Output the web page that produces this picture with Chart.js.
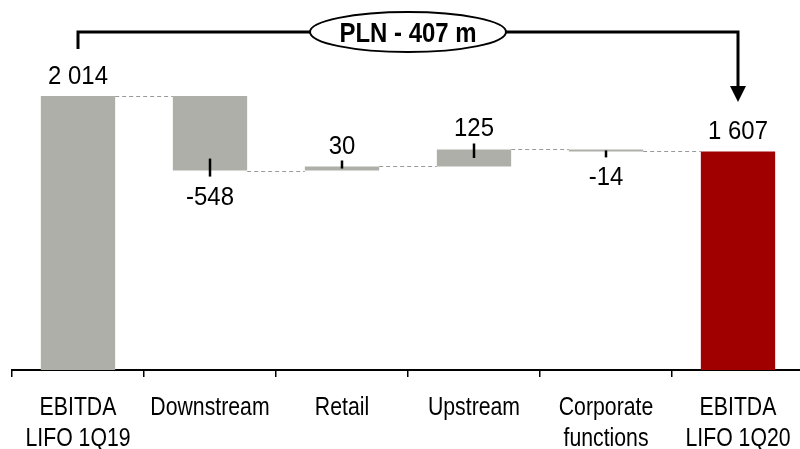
<!DOCTYPE html>
<html>
<head>
<meta charset="utf-8">
<script src="https://cdn.jsdelivr.net/npm/chart.js@4"></script>
<style>
  body { margin: 0; background: #fff; overflow: hidden; }
  #contenedor { width: 804px; height: 449px; }
</style>
</head>
<body>
<div id="contenedor"><canvas id="grafico"></canvas></div>
<script>
// DATOS:
const categorias = [['EBITDA', 'LIFO 1Q19'], 'Downstream', 'Retail', 'Upstream', ['Corporate', 'functions'], ['EBITDA', 'LIFO 1Q20']];
const valores = [2014, -548, 30, 125, -14, 1607];
const esTotal = [true, false, false, false, false, true];
const unidad = 'PLN';

const FUENTE = "'Liberation Sans', Arial, sans-serif";

// rangos flotantes de la cascada
const rangos = [];
let acumulado = 0;
valores.forEach(function(v, i) {
    if (esTotal[i]) {
        rangos.push([0, v]);
        acumulado = v;
    } else {
        rangos.push([acumulado, acumulado + v]);
        acumulado += v;
    }
});

const colores = valores.map(function(v, i) {
    return i === valores.length - 1 ? '#A00000' : '#AFAFAA';
});

function formato(n) {
    return String(n).replace(/\B(?=(\d{3})+(?!\d))/g, ' ');
}

// texto estrecho (imita una fuente narrow)
function textoAngosto(ctx, texto, x, y, escala) {
    ctx.save();
    ctx.translate(x, y);
    ctx.scale(escala, 1);
    ctx.fillText(texto, 0, 0);
    ctx.restore();
}

// dibuja conectores, marcas, etiquetas y la llave superior
const extras = {
    id: 'extras',
    afterDatasetsDraw(chart) {
        const ctx = chart.ctx;
        const y = chart.scales.y;
        const x = chart.scales.x;
        const barras = chart.getDatasetMeta(0).data;

        ctx.save();

        // conectores punteados
        ctx.strokeStyle = '#9A9A9A';
        ctx.lineWidth = 1;
        ctx.setLineDash([4, 3]);
        for (let i = 0; i < barras.length - 1; i++) {
            const py = Math.round(y.getPixelForValue(rangos[i][1])) + 0.5;
            ctx.beginPath();
            ctx.moveTo(barras[i].x + barras[i].width / 2, py);
            ctx.lineTo(barras[i + 1].x - barras[i + 1].width / 2, py);
            ctx.stroke();
        }
        ctx.setLineDash([]);

        // etiquetas del eje x
        ctx.font = '25px ' + FUENTE;
        ctx.fillStyle = '#000';
        ctx.textAlign = 'center';
        ctx.textBaseline = 'alphabetic';
        categorias.forEach(function(c, i) {
            const lineas = Array.isArray(c) ? c : [c];
            const px = x.getPixelForTick(i);
            lineas.forEach(function(l, j) {
                textoAngosto(ctx, l, px, 415 + j * 31, 0.85);
            });
        });

        // etiquetas de valores
        ctx.font = '26px ' + FUENTE;
        barras.forEach(function(b, i) {
            const arriba = Math.min(b.y, b.base);
            const abajo = Math.max(b.y, b.base);
            const alto = abajo - arriba;
            const v = valores[i];
            if (esTotal[i]) {
                textoAngosto(ctx, formato(v), b.x, arriba - 12, 0.92);
                return;
            }
            ctx.strokeStyle = '#000';
            ctx.lineWidth = 2.5;
            const dentro = Math.min(alto / 2, 12);
            ctx.beginPath();
            if (v >= 0) {
                ctx.moveTo(b.x, arriba - 6);
                ctx.lineTo(b.x, arriba + dentro);
                ctx.stroke();
                textoAngosto(ctx, formato(v), b.x, arriba - 13, 0.92);
            } else {
                ctx.moveTo(b.x, abajo - dentro);
                ctx.lineTo(b.x, abajo + 6);
                ctx.stroke();
                textoAngosto(ctx, '-' + formato(Math.abs(v)), b.x, abajo + 34, 0.92);
            }
        });

        // llave superior con elipse y flecha
        const x1 = barras[0].x;
        const x2 = barras[barras.length - 1].x;
        const yLinea = 32;
        const diferencia = valores[valores.length - 1] - valores[0];
        const texto = unidad + (diferencia < 0 ? ' - ' : ' + ') + formato(Math.abs(diferencia)) + ' m';
        const xm = (x1 + x2) / 2;

        ctx.strokeStyle = '#000';
        ctx.lineWidth = 3;
        ctx.beginPath();
        ctx.moveTo(x1, 49);
        ctx.lineTo(x1, yLinea);
        ctx.lineTo(x2, yLinea);
        ctx.lineTo(x2, 88);
        ctx.stroke();

        ctx.fillStyle = '#000';
        ctx.beginPath();
        ctx.moveTo(x2 - 8, 86);
        ctx.lineTo(x2 + 8, 86);
        ctx.lineTo(x2, 102);
        ctx.closePath();
        ctx.fill();

        ctx.lineWidth = 2;
        ctx.fillStyle = '#fff';
        ctx.beginPath();
        ctx.ellipse(xm, yLinea, 98, 20, 0, 0, Math.PI * 2);
        ctx.fill();
        ctx.stroke();

        ctx.fillStyle = '#000';
        ctx.font = 'bold 28px ' + FUENTE;
        textoAngosto(ctx, texto, xm, yLinea + 10, 0.855);

        ctx.restore();
    }
};

new Chart(document.getElementById('grafico'), {
    type: 'bar',
    data: {
        labels: categorias,
        datasets: [{
            data: rangos,
            backgroundColor: colores,
            borderWidth: 0,
            barPercentage: 0.563,
            categoryPercentage: 1
        }]
    },
    options: {
        responsive: true,
        maintainAspectRatio: false,
        animation: false,
        layout: { padding: { left: 12, right: 0, top: 0, bottom: 0 } },
        plugins: {
            legend: { display: false },
            tooltip: { enabled: false }
        },
        scales: {
            x: {
                offset: true,
                grid: {
                    display: true,
                    offset: true,
                    drawOnChartArea: false,
                    drawTicks: true,
                    tickLength: 7,
                    color: '#000',
                    lineWidth: 1.5
                },
                border: { display: true, color: '#000', width: 2 },
                ticks: { display: false },
                afterFit: function(scale) { scale.height = 79; }
            },
            y: {
                display: false,
                min: 0,
                max: 2720
            }
        }
    },
    plugins: [extras]
});
</script>
</body>
</html>
